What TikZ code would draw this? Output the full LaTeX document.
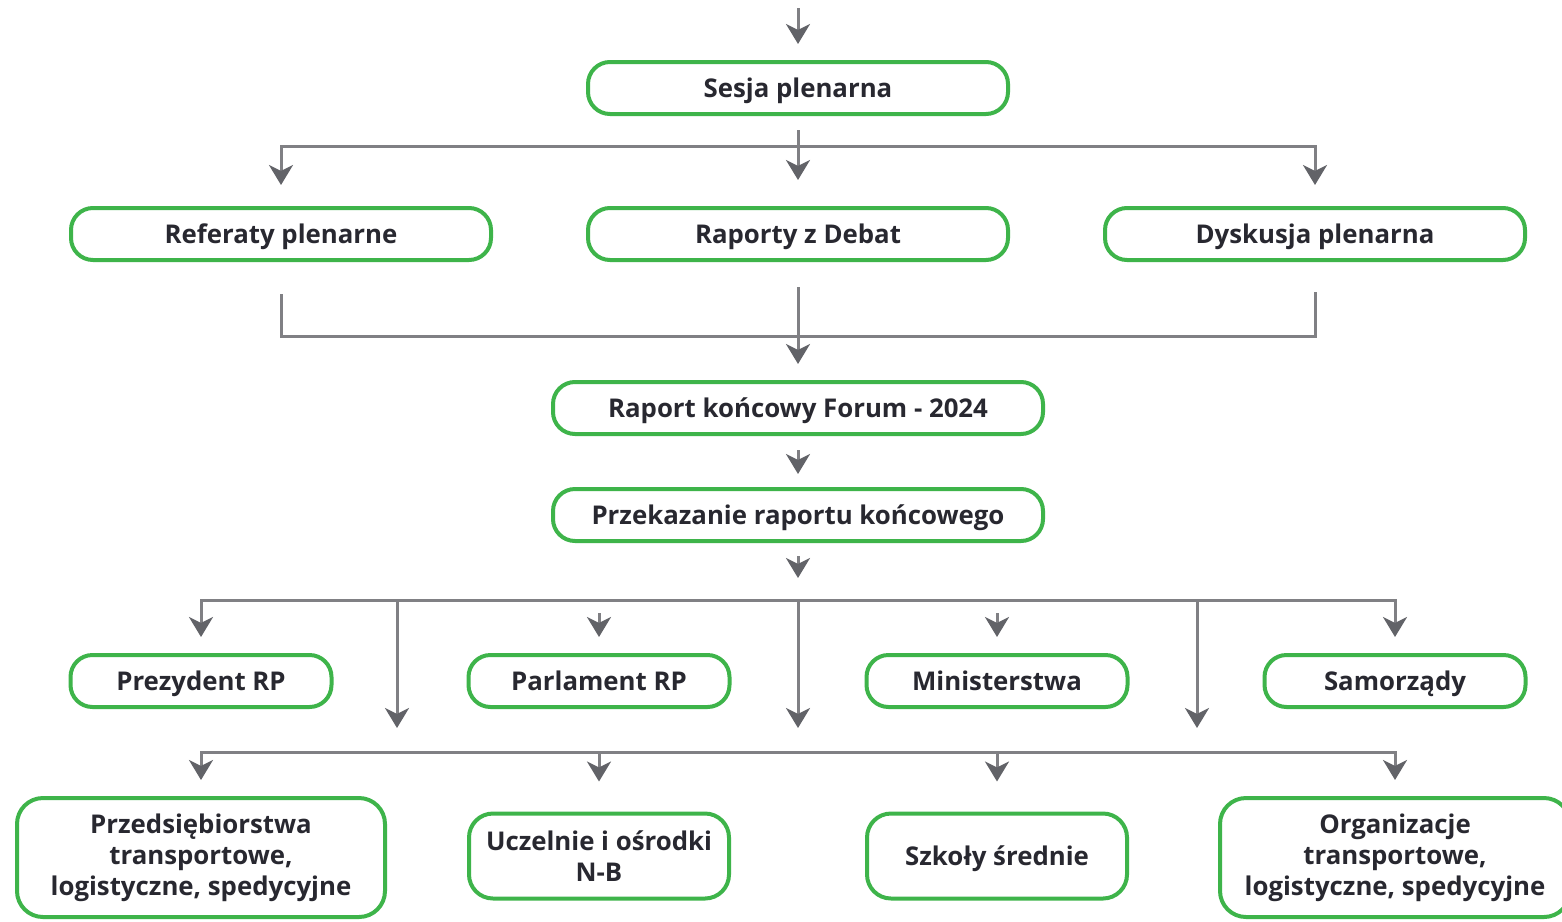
\documentclass[tikz,border=0pt]{standalone}
\usepackage{fontspec}
\setmainfont{Open Sans}
\usetikzlibrary{arrows.meta}
\definecolor{boxgreen}{RGB}{62,180,74}
\definecolor{linegray}{RGB}{128,128,132}
\definecolor{headgray}{RGB}{98,99,104}
\definecolor{txt}{RGB}{40,40,48}
\begin{document}
\begin{tikzpicture}[x=1pt,y=-1pt,
  box/.style={draw=boxgreen, line width=4pt, rounded corners=22pt, fill=white, text=txt,
    font=\fontsize{25.8}{31}\selectfont\bfseries, align=center, inner sep=0pt},
  one/.style={box, text height=18.5pt, text depth=0pt},
  wide/.style={one, minimum width=420pt, minimum height=52pt},
  mid/.style={one, minimum width=490pt, minimum height=52pt},
  small/.style={one, minimum width=261pt, minimum height=52pt},
  tall/.style={box, minimum width=368pt, minimum height=119pt, rounded corners=26pt},
  med/.style={box, minimum width=260pt, minimum height=85pt, rounded corners=24pt},
  conn/.style={draw=linegray, line width=3pt},
  arr/.style={conn, -{Stealth[length=20pt,width=24pt,inset=6pt,color=headgray]}}]
\useasboundingbox (0,0) rectangle (1562,921);
\fill[white] (0,0) rectangle (1562,921);

% nodes
\node[wide] (ses) at (798,88) {Sesja plenarna};
\node[wide] (ref) at (281,234) {Referaty plenarne};
\node[wide] (rap) at (798,234) {Raporty z Debat};
\node[wide] (dys) at (1315,234) {Dyskusja plenarna};
\node[mid] (rk) at (798,408) {Raport końcowy Forum - 2024};
\node[mid] (prz) at (798,515) {Przekazanie raportu końcowego};
\node[small] (pre) at (201,681) {Prezydent RP};
\node[small] (par) at (599,681) {Parlament RP};
\node[small] (min) at (997,681) {Ministerstwa};
\node[small] (sam) at (1395,681) {Samorządy};
\node[tall] (prb) at (201,857.5) {Przedsiębiorstwa\\transportowe,\\logistyczne, spedycyjne};
\node[med] (ucz) at (599,856) {Uczelnie i ośrodki\\N-B};
\node[med, text height=18.5pt, text depth=0pt] (szk) at (997,856) {Szkoły średnie};
\node[tall, minimum width=350pt] (org) at (1395,857.5) {Organizacje\\transportowe,\\logistyczne, spedycyjne};

% coordinates
\coordinate (top) at (798,8);
\coordinate (s1) at (798,146);
\coordinate (m1) at (798,336);
\coordinate (e1) at (798,578);
\coordinate (h1) at (798,600);
\coordinate (h2) at (798,752);
\coordinate (p599) at (599,613);
\coordinate (p997) at (997,613);
\coordinate (d397) at (397,728);
\coordinate (d798) at (798,728);
\coordinate (d1197) at (1197,728);

% connectors
\draw[arr, shorten >=16pt] (top) -- (ses);
\draw[arr, shorten <=14pt, shorten >=26pt] (ses) -- (rap);
\draw[arr, shorten >=21pt] (s1) -| (ref.north);
\draw[arr, shorten >=21pt] (s1) -| (dys.north);

\draw[conn, shorten <=32pt] (ref.south) |- (m1);
\draw[conn, shorten <=30pt] (dys.south) |- (m1);
\draw[arr, shorten <=25pt, shorten >=16pt] (rap) -- (rk);

\draw[arr, shorten <=14pt, shorten >=13pt] (rk) -- (prz);
\draw[arr, shorten <=13pt] (prz) -- (e1);

\draw[arr, shorten >=16pt] (h1) -| (pre.north);
\draw[arr, shorten >=16pt] (h1) -| (sam.north);
\draw[arr] (h1 -| d397) -- (d397);
\draw[arr] (h1) -- (d798);
\draw[arr] (h1 -| d1197) -- (d1197);
\draw[arr, shorten >=16pt] (p599) -- (par);
\draw[arr, shorten >=16pt] (p997) -- (min);

\draw[arr, shorten >=16pt] (h2) -| (prb.north);
\draw[arr, shorten >=16pt] (h2) -| (org.north);
\draw[arr, shorten >=30pt] (h2 -| ucz.north) -- (ucz);
\draw[arr, shorten >=30pt] (h2 -| szk.north) -- (szk);
\end{tikzpicture}
\end{document}
